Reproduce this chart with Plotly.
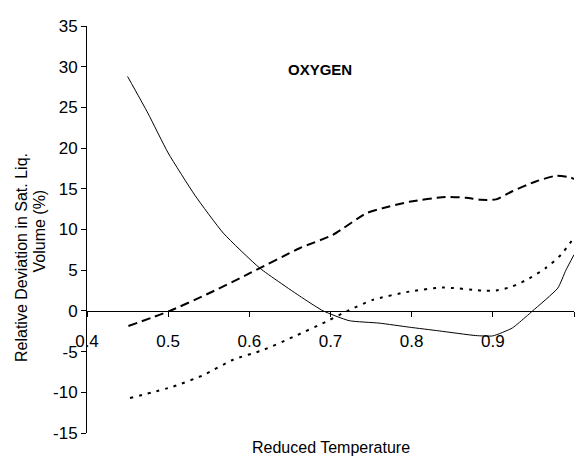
import plotly.graph_objects as go

# Reduced temperature / relative deviation (%) for three models
t_solid = [0.45, 0.475, 0.50, 0.533, 0.568, 0.613, 0.666, 0.691, 0.723, 0.760,
           0.797, 0.834, 0.879, 0.900, 0.924, 0.941, 0.949, 0.980, 0.990, 1.0]
v_solid = [28.8, 24.3, 19.4, 14.2, 9.55, 5.25, 1.56, 0.0, -1.2, -1.5,
           -2.0, -2.46, -3.03, -3.07, -2.1, -0.7, 0.0, 2.8, 5.0, 6.9]

t_dash = [0.451, 0.502, 0.551, 0.600, 0.662, 0.703, 0.744, 0.764, 0.797, 0.842,
          0.867, 0.885, 0.904, 0.924, 0.953, 0.978, 0.996, 1.0]
v_dash = [-1.85, 0.0, 2.2, 4.6, 7.7, 9.35, 12.0, 12.6, 13.4, 14.0,
          13.9, 13.65, 13.7, 14.7, 15.9, 16.6, 16.4, 16.2]

t_dot = [0.453, 0.506, 0.543, 0.580, 0.617, 0.654, 0.695, 0.721, 0.752, 0.797,
         0.838, 0.887, 0.904, 0.924, 0.945, 0.965, 0.984, 1.0]
v_dot = [-10.7, -9.3, -7.9, -6.0, -4.8, -3.2, -1.3, 0.0, 1.35, 2.37,
         2.87, 2.5, 2.5, 3.0, 4.0, 5.25, 6.9, 9.0]

x_ticks = [0.4, 0.5, 0.6, 0.7, 0.8, 0.9, 1.0]
x_tick_labels = ["0.4", "0.5", "0.6", "0.7", "0.8", "0.9", "1"]
y_ticks = [-15, -10, -5, 0, 5, 10, 15, 20, 25, 30, 35]
y_tick_labels = ["-15", "-10", "-5", "0", "5", "10", "15", "20", "25", "30", "35"]

x_range = [0.4, 1.0]
y_range = [-15, 35]

FONT = "Liberation Sans, Arial, sans-serif"

fig = go.Figure()
fig.add_trace(go.Scatter(x=t_solid, y=v_solid, mode="lines",
                         line=dict(color="black", width=1, shape="spline", smoothing=0.5)))
fig.add_trace(go.Scatter(x=t_dash, y=v_dash, mode="lines",
                         line=dict(color="black", width=2, dash="9px,5px", shape="spline", smoothing=0.6)))
fig.add_trace(go.Scatter(x=t_dot, y=v_dot, mode="lines",
                         line=dict(color="black", width=2, dash="3px,6px", shape="spline", smoothing=0.6)))

zero_frac = (0 - y_range[0]) / (y_range[1] - y_range[0])

L, R, T, B = 87, 4, 26, 24
W, H = 578, 457
pw, ph = W - L - R, H - T - B


def px(xp):
    return (xp - L) / pw


def py(yp):
    return 1 - (yp - T) / ph


fig.update_layout(
    width=W, height=H,
    margin=dict(l=L, r=R, t=T, b=B),
    paper_bgcolor="white", plot_bgcolor="white",
    showlegend=False,
    font=dict(family=FONT, size=16, color="black"),
    xaxis=dict(range=x_range, tickvals=x_ticks, ticktext=x_tick_labels,
               showgrid=False, zeroline=False,
               showline=True, linecolor="black", linewidth=1,
               ticks="outside", ticklen=5, tickcolor="black",
               anchor="free", position=zero_frac,
               tickfont=dict(size=17), ticklabelstandoff=10),
    yaxis=dict(range=y_range, tickvals=y_ticks, ticktext=y_tick_labels,
               showgrid=False, zeroline=False,
               showline=True, linecolor="black", linewidth=1,
               ticks="outside", ticklen=5, tickcolor="black",
               tickfont=dict(size=17)),
    annotations=[
        dict(text="<b>OXYGEN</b>", x=px(320), y=py(59),
             xref="paper", yref="paper", showarrow=False, font=dict(size=15)),
        dict(text="Reduced Temperature", x=0.5, y=py(447),
             xref="paper", yref="paper", xanchor="center", yanchor="middle",
             showarrow=False, font=dict(size=16)),
        dict(text="Relative Deviation in Sat. Liq.", x=px(21), y=py(258),
             xref="paper", yref="paper", xanchor="center", yanchor="middle",
             textangle=-90, showarrow=False, font=dict(size=16)),
        dict(text="Volume (%)", x=px(38.5), y=py(231),
             xref="paper", yref="paper", xanchor="center", yanchor="middle",
             textangle=-90, showarrow=False, font=dict(size=16)),
    ],
)

fig.write_html("out.html")
